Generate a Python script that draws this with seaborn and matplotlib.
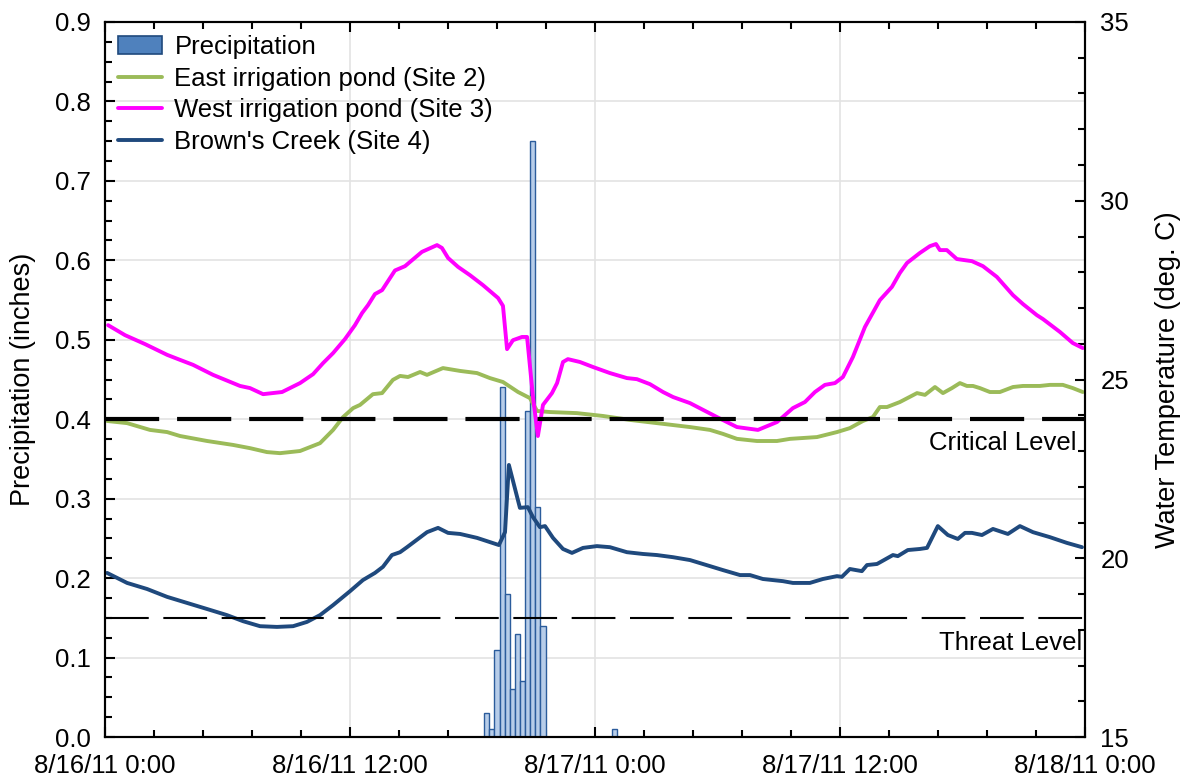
import numpy as np
import pandas as pd
import seaborn as sns
from matplotlib import pyplot as plt
from matplotlib.patches import Patch
from matplotlib.lines import Line2D
from matplotlib.ticker import MultipleLocator, FormatStrFormatter

# hours since 8/16/11 0:00
tick_hours = [0, 12, 24, 36, 48]
tick_labels = ["8/16/11 0:00", "8/16/11 12:00", "8/17/11 0:00", "8/17/11 12:00", "8/18/11 0:00"]

# precipitation, 15-minute totals (inches)
rain_hours = [18.7, 18.95, 19.2, 19.45, 19.7, 19.95, 20.2, 20.45, 20.7, 20.95, 21.2, 21.45, 24.95]
rain_inches = [0.03, 0.01, 0.11, 0.44, 0.18, 0.06, 0.13, 0.07, 0.41, 0.75, 0.29, 0.14, 0.01]

# West irrigation pond (Site 3), deg C
west_hours = [0.15, 0.98, 1.96, 3.04, 3.67, 4.31, 5.29, 6.27, 6.61, 7.10, 7.74, 8.67, 9.55, 10.19,
              10.68, 11.17, 11.75, 12.24, 12.59, 12.88, 13.22, 13.57, 14.20, 14.69, 15.52, 16.26,
              16.50, 16.80, 17.29, 17.87, 18.51, 19.25, 19.49, 19.69, 19.98, 20.42, 20.67, 20.96,
              21.20, 21.45, 21.89, 22.14, 22.43, 22.67, 23.26, 23.90, 24.73, 25.56, 26.05, 26.69,
              27.33, 27.82, 28.65, 29.97, 30.95, 31.98, 32.91, 33.69, 34.28, 34.77, 35.26, 35.75,
              36.14, 36.63, 37.22, 37.95, 38.54, 38.93, 39.28, 39.91, 40.40, 40.70, 40.89, 41.23,
              41.72, 42.46, 43.00, 43.68, 44.47, 44.96, 45.64, 45.94, 46.77, 47.40, 47.89]
west_temp = [26.52, 26.24, 25.99, 25.69, 25.55, 25.41, 25.13, 24.90, 24.82, 24.76, 24.59, 24.65,
             24.90, 25.15, 25.46, 25.74, 26.13, 26.52, 26.86, 27.08, 27.39, 27.50, 28.05, 28.17,
             28.57, 28.76, 28.68, 28.40, 28.15, 27.92, 27.64, 27.28, 27.06, 25.85, 26.10, 26.19,
             26.19, 24.51, 23.42, 24.29, 24.62, 24.90, 25.49, 25.57, 25.49, 25.35, 25.18, 25.04,
             25.01, 24.87, 24.65, 24.51, 24.34, 23.95, 23.67, 23.59, 23.81, 24.20, 24.37, 24.65,
             24.85, 24.90, 25.07, 25.63, 26.47, 27.22, 27.59, 27.98, 28.26, 28.54, 28.73, 28.79,
             28.62, 28.62, 28.37, 28.31, 28.17, 27.87, 27.36, 27.11, 26.80, 26.69, 26.33, 26.02,
             25.88]

# East irrigation pond (Site 2), deg C
east_hours = [0.10, 1.08, 2.20, 3.04, 3.67, 5.00, 6.27, 7.10, 7.93, 8.57, 9.55, 10.53, 11.17,
              11.66, 12.15, 12.49, 13.12, 13.57, 14.10, 14.45, 14.84, 15.43, 15.77, 16.55, 17.39,
              18.22, 18.85, 19.49, 20.23, 20.81, 21.16, 21.79, 23.11, 24.39, 25.71, 27.03, 28.65,
              29.63, 30.26, 30.95, 31.93, 32.91, 33.55, 34.87, 35.85, 36.48, 37.12, 37.61, 37.95,
              38.30, 38.93, 39.77, 40.16, 40.65, 41.04, 41.48, 41.87, 42.21, 42.51, 42.85, 43.34,
              43.83, 44.47, 44.96, 45.79, 46.28, 46.91, 47.40, 47.89]
east_temp = [23.84, 23.78, 23.59, 23.53, 23.42, 23.28, 23.17, 23.08, 22.97, 22.94, 23.00, 23.22,
             23.59, 23.95, 24.20, 24.29, 24.59, 24.62, 24.99, 25.10, 25.07, 25.21, 25.13, 25.32,
             25.24, 25.18, 25.04, 24.93, 24.65, 24.48, 24.12, 24.09, 24.06, 23.98, 23.87, 23.78,
             23.67, 23.59, 23.48, 23.34, 23.28, 23.28, 23.34, 23.39, 23.53, 23.64, 23.84, 23.95,
             24.23, 24.23, 24.37, 24.62, 24.57, 24.79, 24.62, 24.76, 24.90, 24.82, 24.82, 24.76,
             24.65, 24.65, 24.79, 24.82, 24.82, 24.85, 24.85, 24.76, 24.65]

# Brown's Creek (Site 4), deg C
creek_hours = [0.10, 1.08, 2.06, 3.04, 4.02, 5.00, 5.97, 6.76, 7.59, 8.42, 9.21, 9.89, 10.53,
               11.17, 12.00, 12.63, 13.22, 13.61, 14.05, 14.45, 14.79, 15.77, 16.31, 16.80, 17.39,
               18.22, 19.29, 19.59, 19.78, 20.32, 20.71, 20.96, 21.30, 21.55, 21.94, 22.43, 22.87,
               23.41, 24.09, 24.73, 25.56, 26.35, 27.03, 27.82, 28.65, 29.63, 30.26, 31.10, 31.59,
               32.22, 33.20, 33.69, 34.52, 35.16, 35.85, 36.09, 36.48, 37.07, 37.32, 37.81, 38.59,
               38.83, 39.32, 39.91, 40.26, 40.79, 41.28, 41.77, 42.12, 42.46, 42.95, 43.49, 44.22,
               44.81, 45.45, 46.28, 47.11, 47.85]
creek_temp = [19.59, 19.31, 19.14, 18.92, 18.75, 18.58, 18.41, 18.24, 18.10, 18.08, 18.10, 18.22,
              18.41, 18.69, 19.08, 19.39, 19.59, 19.76, 20.09, 20.17, 20.31, 20.73, 20.85, 20.71,
              20.68, 20.57, 20.37, 20.73, 22.61, 21.41, 21.43, 21.15, 20.87, 20.90, 20.57, 20.26,
              20.15, 20.29, 20.34, 20.31, 20.17, 20.12, 20.09, 20.03, 19.95, 19.78, 19.67, 19.53,
              19.53, 19.42, 19.36, 19.31, 19.31, 19.42, 19.50, 19.48, 19.70, 19.64, 19.81, 19.84,
              20.09, 20.06, 20.23, 20.26, 20.29, 20.90, 20.65, 20.54, 20.71, 20.71, 20.65, 20.82,
              20.68, 20.90, 20.73, 20.59, 20.43, 20.31]

critical_level = 23.89  # 75 F
threat_level = 18.33    # 65 F

sns.set_style("ticks")
plt.rcParams['font.family'] = ['Liberation Sans', 'DejaVu Sans']
plt.rcParams['font.size'] = 18.5
for key in ["text.color", "axes.labelcolor", "xtick.color", "ytick.color"]:
    plt.rcParams[key] = "black"

fig = plt.figure(figsize=(11.83, 7.8), dpi=100)
ax = fig.add_axes([0.0888, 0.0551, 0.8284, 0.9167])
ax2 = ax.twinx()

# precipitation bars on the left axis
ax.bar(rain_hours, rain_inches, width=0.25, color="#b7cde9", edgecolor="#2b5c9c", linewidth=1.0, zorder=2)
ax.set_xlim(0, 48)
ax.set_ylim(0, 0.9)
ax.set_xticks(tick_hours)
ax.set_xticklabels(tick_labels)
ax.xaxis.set_minor_locator(MultipleLocator(2.4))
ax.yaxis.set_major_locator(MultipleLocator(0.1))
ax.yaxis.set_minor_locator(MultipleLocator(0.025))
ax.yaxis.set_major_formatter(FormatStrFormatter("%.1f"))
ax.grid(True, which="major", color="#e3e3e3", linewidth=1.2, zorder=0)
ax.set_axisbelow(True)
ax.set_ylabel("Precipitation (inches)", labelpad=14, fontsize=19.5)
ax.tick_params(axis="both", which="both", direction="in", top=True, right=False, width=1.5)
ax.tick_params(axis="both", which="major", length=7)
ax.tick_params(axis="both", which="minor", length=5)
ax.tick_params(axis="y", pad=10)
ax.tick_params(axis="x", pad=12)

# water temperature lines on the right axis
sns.lineplot(x=east_hours, y=east_temp, ax=ax2, color="#9bbb59", linewidth=2.8, sort=False, estimator=None)
sns.lineplot(x=west_hours, y=west_temp, ax=ax2, color="#ff00ff", linewidth=2.8, sort=False, estimator=None)
sns.lineplot(x=creek_hours, y=creek_temp, ax=ax2, color="#1f497d", linewidth=2.8, sort=False, estimator=None)
ax2.axhline(critical_level, color="black", linewidth=3, dashes=(13, 4.3))
ax2.axhline(threat_level, color="black", linewidth=1.5, dashes=(21, 7))
ax2.text(47.6, critical_level - 0.34, "Critical Level", ha="right", va="top")
ax2.text(47.85, threat_level - 0.37, "Threat Level", ha="right", va="top")
ax2.set_ylim(15, 35)
ax2.yaxis.set_major_locator(MultipleLocator(5))
ax2.yaxis.set_minor_locator(MultipleLocator(1))
ax2.set_ylabel("Water Temperature (deg. C)", labelpad=19, fontsize=19.5)
ax2.tick_params(axis="y", which="both", direction="in", width=1.5, pad=11)
ax2.tick_params(axis="y", which="major", length=7)
ax2.tick_params(axis="y", which="minor", length=5)
ax2.set_xlim(0, 48)

for a in (ax, ax2):
    for s in a.spines.values():
        s.set_linewidth(1.5)
        s.set_color("black")

handles = [
    Patch(facecolor="#4f81bd", edgecolor="#1f497d", linewidth=1.2),
    Line2D([0], [0], color="#9bbb59", linewidth=2.8),
    Line2D([0], [0], color="#ff00ff", linewidth=2.8),
    Line2D([0], [0], color="#1f497d", linewidth=2.8),
]
labels = ["Precipitation", "East irrigation pond (Site 2)", "West irrigation pond (Site 3)", "Brown's Creek (Site 4)"]
ax2.legend(handles, labels, loc="upper left", frameon=False, handlelength=1.7, handletextpad=0.5,
           labelspacing=0.3, borderaxespad=0.2, borderpad=0.3)

fig.savefig("out.png", dpi=100)
